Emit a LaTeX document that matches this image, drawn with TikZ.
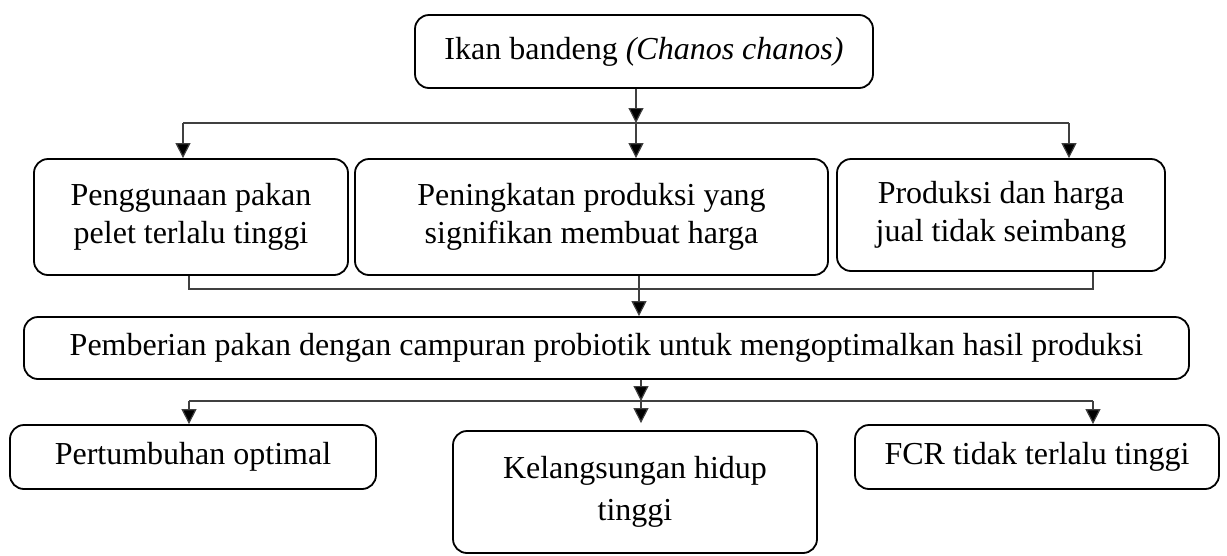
\documentclass[tikz,border=0pt]{standalone}
\usepackage{fontspec}
\setmainfont{Liberation Serif}
\usetikzlibrary{arrows.meta}
\begin{document}
\begin{tikzpicture}[x=1pt,y=-1pt,
  box/.style={draw=black, line width=1.8pt, rounded corners=14pt, align=center, inner sep=0pt,
    font=\fontsize{32}{38}\selectfont},
  conn/.style={draw=black!75, line width=1.2pt},
  arr/.style={conn, -{Triangle[width=15pt,length=15pt,fill=black]}}]
\useasboundingbox (0,0) rectangle (1227,555);
% nodes
\node[box, minimum width=458pt, minimum height=73pt] (top) at (644,51.5) {Ikan bandeng \textit{(Chanos chanos)}};
\node[box, minimum width=314pt, minimum height=116pt] (A) at (191,217) {\raisebox{-2pt}{\begin{tabular}{@{}c@{}}Penggunaan pakan\\pelet terlalu tinggi\end{tabular}}};
\node[box, minimum width=473pt, minimum height=116pt] (B) at (591.5,217) {\raisebox{-2pt}{\begin{tabular}{@{}c@{}}Peningkatan produksi yang\\signifikan membuat harga\end{tabular}}};
\node[box, minimum width=328pt, minimum height=112pt] (C) at (1001,215) {\raisebox{-2pt}{\begin{tabular}{@{}c@{}}Produksi dan harga\\jual tidak seimbang\end{tabular}}};
\node[box, minimum width=1165pt, minimum height=62pt] (P) at (606.5,348) {\raisebox{3pt}{Pemberian pakan dengan campuran probiotik untuk mengoptimalkan hasil produksi}};
\node[box, minimum width=366pt, minimum height=64pt] (D) at (193,457) {Pertumbuhan optimal};
\node[box, minimum width=364pt, minimum height=122pt] (K) at (635,492) {Kelangsungan hidup\\[4pt]tinggi};
\node[box, minimum width=364pt, minimum height=64pt] (F) at (1037,457) {FCR tidak terlalu tinggi};
% split coordinates
\coordinate (s1) at (636,123);
\coordinate (hl) at (183,123);
\coordinate (hr) at (1069,123);
\coordinate (bl) at (189,289);
\coordinate (bm) at (639,289);
\coordinate (br) at (1093,289);
\coordinate (cl) at (189,401);
\coordinate (cm) at (641,401);
\coordinate (cr) at (1093,401);
% connectors: top to row 2
\draw[arr] (top.south -| s1) -- (s1);
\draw[conn] (hl) -- (hr);
\draw[arr] (hl) -- (hl |- A.north);
\draw[arr] (s1) -- (s1 |- B.north);
\draw[arr] (hr) -- (hr |- C.north);
% row 2 to P
\draw[conn] (A.south -| bl) -- (bl) -- (br) -- (C.south -| br);
\draw[conn] (B.south -| bm) -- (bm);
\draw[arr] (bm) -- (bm |- P.north);
% P to bottom row
\draw[arr] (P.south -| cm) -- (cm);
\draw[conn] (cl) -- (cr);
\draw[arr] (cl) -- (cl |- D.north);
\draw[arr] (cm) -- ([yshift=7pt]cm |- K.north);
\draw[arr] (cr) -- (cr |- F.north);
\end{tikzpicture}
\end{document}
